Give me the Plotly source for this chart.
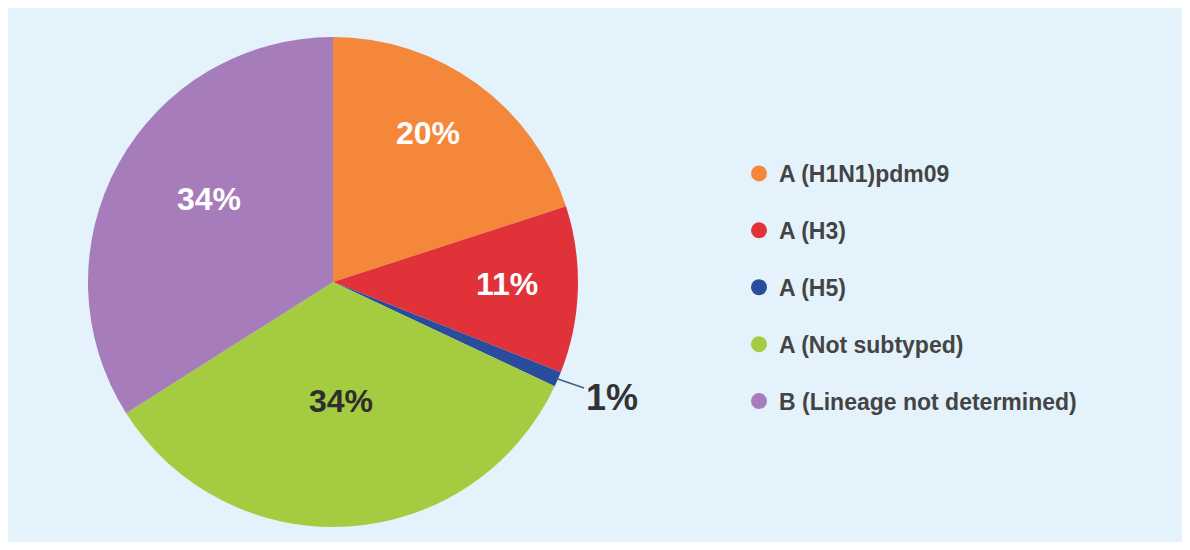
import math
import plotly.graph_objects as go

labels = ["A (H1N1)pdm09", "A (H3)", "A (H5)", "A (Not subtyped)", "B (Lineage not determined)"]
values = [20, 11, 1, 34, 34]
colors = ["#F5873A", "#E1323A", "#2A4C9C", "#A5CB40", "#A67CBA"]

# label styling (not data)
label_colors = ["white", "white", "#333333", "#2E2E2E", "white"]
label_rfrac = [0.71, 0.71, None, 0.50, 0.60]   # None -> outside label with leader line
label_dangle = [-3.0, 0.0, 0.0, 0.0, 4.0]      # small angular nudges in degrees

W, H = 1174, 534
cx_px, cy_px, R = 325, 274, 245
dom_x = [(cx_px - R) / W, (cx_px + R) / W]
dom_y = [1 - (cy_px + R) / H, 1 - (cy_px - R) / H]

fig = go.Figure()

fig.add_trace(go.Pie(
    labels=labels,
    values=values,
    sort=False,
    direction="clockwise",
    rotation=0,
    marker=dict(colors=colors, line=dict(width=0)),
    textinfo="none",
    showlegend=False,
    domain=dict(x=dom_x, y=dom_y),
    hoverinfo="label+percent",
))

for i, (lab, col) in enumerate(zip(labels, colors)):
    fig.add_trace(go.Scatter(
        x=[None], y=[None], mode="markers", name=lab,
        marker=dict(symbol="circle", size=16, color=col),
        legendgroup=f"g{i}", showlegend=True,
    ))

# value labels placed at slice mid-angles
total = sum(values)
annotations = []
cum = 0.0
for v, tc, rf, da in zip(values, label_colors, label_rfrac, label_dangle):
    mid = (cum + v / 2) / total * 2 * math.pi + math.radians(da)
    cum += v
    s, c = math.sin(mid), math.cos(mid)
    if rf is not None:
        px = cx_px + rf * R * s
        py = cy_px - rf * R * c - 3
        annotations.append(dict(
            x=px / W, y=1 - py / H, xref="paper", yref="paper",
            text=f"<b>{v}%</b>", showarrow=False,
            xanchor="center", yanchor="middle",
            font=dict(family="Liberation Sans", size=32, color=tc),
        ))
    else:
        px = cx_px + 0.99 * R * s
        py = cy_px - 0.99 * R * c
        annotations.append(dict(
            x=px / W, y=1 - py / H, xref="paper", yref="paper",
            text=f"<b>{v}%</b>", showarrow=True,
            arrowhead=0, arrowwidth=1.5, arrowcolor="#4A5A80",
            ax=56, ay=19, standoff=0,
            font=dict(family="Liberation Sans", size=36, color=tc),
        ))

fig.update_layout(
    width=W, height=H,
    margin=dict(l=0, r=0, t=0, b=0),
    paper_bgcolor="#E4F3FB",
    plot_bgcolor="rgba(0,0,0,0)",
    xaxis=dict(visible=False),
    yaxis=dict(visible=False),
    font=dict(family="Liberation Sans"),
    legend=dict(
        x=731 / W, y=1 - 144 / H, xanchor="left", yanchor="top",
        bgcolor="rgba(0,0,0,0)",
        font=dict(family="Liberation Sans", size=23, color="#444444", weight="bold"),
        tracegroupgap=24,
    ),
    annotations=annotations,
)

fig.write_html("out.html")
